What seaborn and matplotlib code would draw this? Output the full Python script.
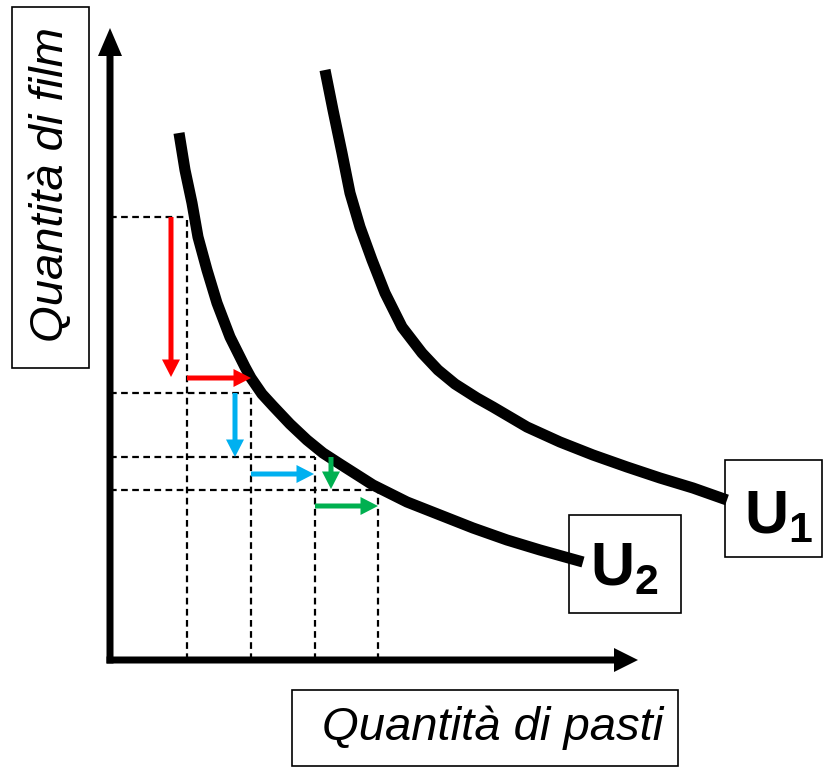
import seaborn as sns
import matplotlib.pyplot as plt
from matplotlib.patches import Rectangle

# Curve di indifferenza
u2_pasti = [6.9, 7.5, 8.2, 8.8, 9.7, 10.7, 12.0, 13.5, 14.1, 15.2, 16.3, 18.0, 19.7,
            21.3, 23.0, 26.3, 29.7, 33.0, 36.3, 39.7, 43.0, 47.3]
u2_film = [52.7, 49.0, 45.7, 42.3, 39.0, 35.7, 32.3, 29.3, 28.2, 26.6, 25.4, 23.6, 22.0,
           20.7, 19.6, 17.5, 15.8, 14.5, 13.2, 12.0, 11.0, 9.8]

u1_pasti = [21.5, 22.3, 23.2, 24.0, 25.0, 26.2, 27.5, 29.2, 30.2, 31.2, 32.8, 34.5,
            36.7, 38.3, 41.7, 45.0, 48.3, 51.7, 55.0, 58.3, 61.7]
u1_film = [59.0, 55.0, 50.7, 46.7, 43.3, 40.0, 36.7, 33.3, 32.0, 30.7, 29.0, 27.6,
           26.2, 25.3, 23.3, 21.8, 20.5, 19.3, 18.2, 17.2, 16.0]

# livelli tratteggiati
pasti_livelli = [7.7, 14.1, 20.5, 26.8]
film_livelli = [44.3, 26.7, 20.3, 17.0]

# frecce colorate (inizio -> fine)
freccia_x0 = [6.1, 7.7, 12.5, 14.1, 22.1, 20.5]
freccia_y0 = [44.3, 28.2, 26.7, 18.6, 20.3, 15.4]
freccia_x1 = [6.1, 14.1, 12.5, 20.4, 22.1, 26.8]
freccia_y1 = [28.3, 28.2, 20.3, 18.6, 17.1, 15.4]
freccia_colori = ['#FF0000', '#FF0000', '#00B0F0', '#00B0F0', '#00B050', '#00B050']

etichetta_x = 'Quantità di pasti'
etichetta_y = 'Quantità di film'

sns.set_theme(style='white')
plt.rcParams['font.family'] = ['Liberation Sans', 'DejaVu Sans']
plt.rcParams['text.color'] = 'black'
plt.rcParams['mathtext.fontset'] = 'custom'
plt.rcParams['mathtext.bf'] = 'Liberation Sans:bold'
plt.rcParams['mathtext.rm'] = 'Liberation Sans'

fig = plt.figure(figsize=(8.27, 7.68), dpi=100)
ax = fig.add_axes([0, 0, 1, 1])
ax.set_xlim(-11, 71.7)
ax.set_ylim(-10.8, 66.0)
ax.axis('off')

W, H = 827, 768
def fx(p):
    return p / W
def fy(p):
    return 1 - p / H

# linee tratteggiate
for px_, fy_ in zip(pasti_livelli, film_livelli):
    ax.plot([0, px_], [fy_, fy_], color='black', lw=1.6, ls=(0, (3, 2)))
    ax.plot([px_, px_], [0, fy_], color='black', lw=1.6, ls=(0, (3, 2)))

# assi con frecce
ax.arrow(0, -0.35, 0, 63.55, width=0.7, head_width=2.4, head_length=2.8,
         length_includes_head=True, color='black', lw=0)
ax.arrow(-0.35, 0, 53.15, 0, width=0.7, head_width=2.4, head_length=2.4,
         length_includes_head=True, color='black', lw=0)

# curve
sns.lineplot(x=u2_pasti, y=u2_film, sort=False, color='black', lw=8,
             solid_capstyle='butt', solid_joinstyle='round', ax=ax)
sns.lineplot(x=u1_pasti, y=u1_film, sort=False, color='black', lw=8,
             solid_capstyle='butt', solid_joinstyle='round', ax=ax)

# frecce colorate
for x0, y0, x1, y1, c in zip(freccia_x0, freccia_y0, freccia_x1, freccia_y1, freccia_colori):
    ax.arrow(x0, y0, x1 - x0, y1 - y0, width=0.5, head_width=1.8, head_length=1.75,
             length_includes_head=True, color=c, lw=0, zorder=3)

# riquadri
def riquadro(x0, y0, x1, y1):
    fig.add_artist(Rectangle((fx(x0), fy(y1)), fx(x1) - fx(x0), fy(y0) - fy(y1),
                             transform=fig.transFigure, fill=False,
                             edgecolor='black', lw=1.2))

riquadro(12, 7, 89, 368)
riquadro(292, 690, 678, 766)
riquadro(725, 460, 822, 557)
riquadro(569, 515, 681, 613)

fig.text(fx(51), fy(184), etichetta_y, rotation=90, fontsize=34, style='italic',
         ha='center', va='center')
fig.text(fx(493), fy(728), etichetta_x, fontsize=34, style='italic',
         ha='center', va='center')
fig.text(fx(744), fy(533), r'$\mathbf{U}_{\mathbf{1}}$', fontsize=44,
         ha='left', va='baseline')
fig.text(fx(590), fy(585), r'$\mathbf{U}_{\mathbf{2}}$', fontsize=44,
         ha='left', va='baseline')

plt.savefig('out.png', dpi=100)
